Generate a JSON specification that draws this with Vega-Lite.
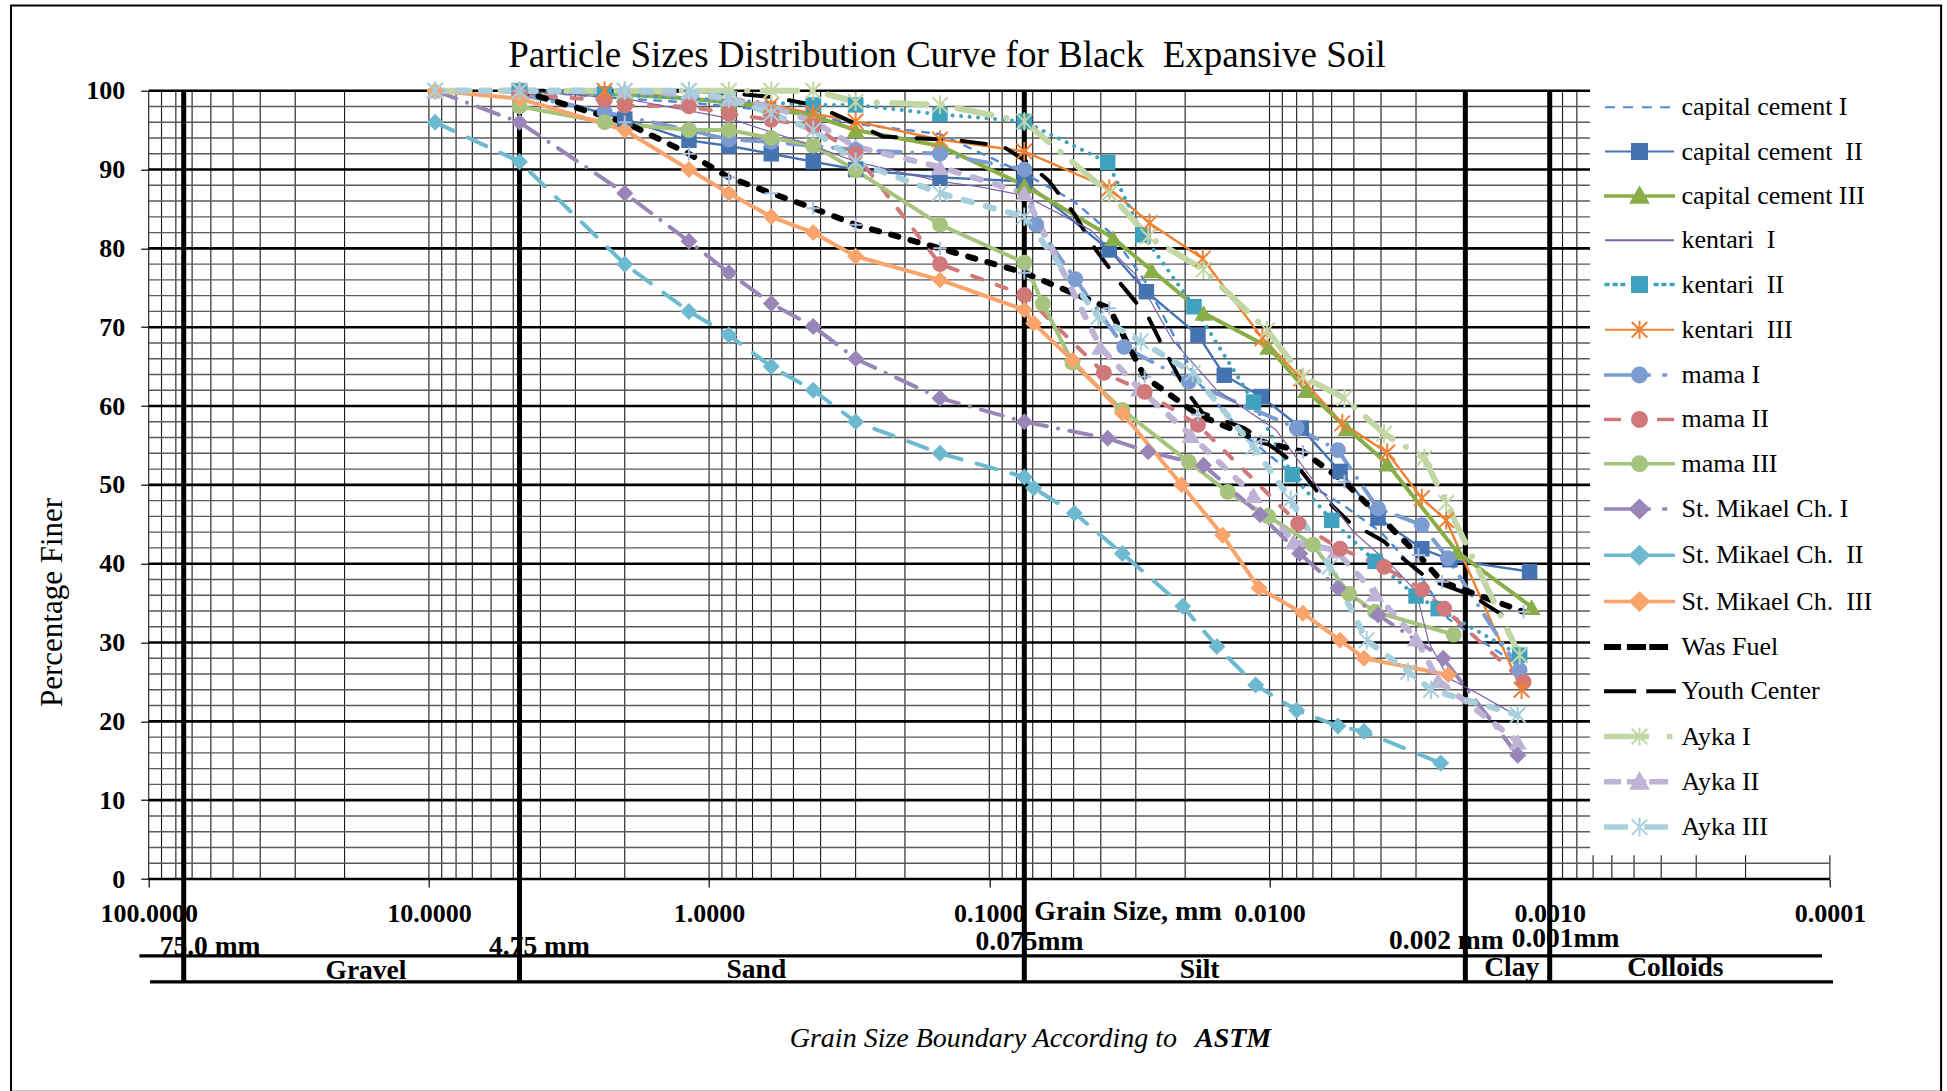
{
  "$schema": "https://vega.github.io/schema/vega-lite/v6.json",
  "width": 1681.2,
  "height": 788.3,
  "autosize": {"type": "none"},
  "padding": {"left": 148.7, "top": 90.7, "right": 117.1, "bottom": 212},
  "background": "white",
  "config": {
    "view": {"stroke": null},
    "font": "Liberation Serif",
    "legend": {
      "labelFont": "Liberation Serif",
      "labelFontSize": 26,
      "labelColor": "black",
      "labelLimit": 400,
      "labelOffset": 29,
      "symbolOffset": 21.5,
      "rowPadding": 18.3,
      "symbolSize": 484,
      "symbolOpacity": 1,
      "symbolStrokeWidth": 2,
      "fillColor": "white",
      "padding": 15
    }
  },
  "datasets": {
    "grain": [
      {"s": "capital cement I", "d": 4.75, "p": 100}, {"s": "capital cement I", "d": 2, "p": 99}, {"s": "capital cement I", "d": 1.18, "p": 98.5}, {"s": "capital cement I", "d": 0.85, "p": 98}, {"s": "capital cement I", "d": 0.6, "p": 97.5}, {"s": "capital cement I", "d": 0.425, "p": 96.8}, {"s": "capital cement I", "d": 0.3, "p": 95.8}, {"s": "capital cement I", "d": 0.15, "p": 94.5}, {"s": "capital cement I", "d": 0.075, "p": 89.5}, {"s": "capital cement I", "d": 0.05, "p": 86}, {"s": "capital cement I", "d": 0.037, "p": 82}, {"s": "capital cement I", "d": 0.028, "p": 76}, {"s": "capital cement I", "d": 0.022, "p": 69}, {"s": "capital cement I", "d": 0.018, "p": 63}, {"s": "capital cement I", "d": 0.012, "p": 56}, {"s": "capital cement I", "d": 0.008, "p": 51}, {"s": "capital cement I", "d": 0.0055, "p": 47.5}, {"s": "capital cement I", "d": 0.004, "p": 44}, {"s": "capital cement I", "d": 0.0029, "p": 38.5}, {"s": "capital cement I", "d": 0.0023, "p": 33}, {"s": "capital cement I", "d": 0.00128, "p": 27},

      {"s": "capital cement\u00a0 II", "d": 4.75, "p": 100}, {"s": "capital cement\u00a0 II", "d": 2, "p": 96.4}, {"s": "capital cement\u00a0 II", "d": 1.18, "p": 93.7}, {"s": "capital cement\u00a0 II", "d": 0.85, "p": 93}, {"s": "capital cement\u00a0 II", "d": 0.6, "p": 92}, {"s": "capital cement\u00a0 II", "d": 0.425, "p": 91}, {"s": "capital cement\u00a0 II", "d": 0.3, "p": 90}, {"s": "capital cement\u00a0 II", "d": 0.15, "p": 89}, {"s": "capital cement\u00a0 II", "d": 0.075, "p": 88.5}, {"s": "capital cement\u00a0 II", "d": 0.0373, "p": 79.8}, {"s": "capital cement\u00a0 II", "d": 0.0275, "p": 74.5}, {"s": "capital cement\u00a0 II", "d": 0.018, "p": 69}, {"s": "capital cement\u00a0 II", "d": 0.0145, "p": 63.9}, {"s": "capital cement\u00a0 II", "d": 0.0107, "p": 61.2}, {"s": "capital cement\u00a0 II", "d": 0.0077, "p": 57.2}, {"s": "capital cement\u00a0 II", "d": 0.0056, "p": 51.7}, {"s": "capital cement\u00a0 II", "d": 0.0041, "p": 45.8}, {"s": "capital cement\u00a0 II", "d": 0.00286, "p": 41.9}, {"s": "capital cement\u00a0 II", "d": 0.00227, "p": 40.5}, {"s": "capital cement\u00a0 II", "d": 0.00118, "p": 39},

      {"s": "capital cement III", "d": 4.75, "p": 100}, {"s": "capital cement III", "d": 2, "p": 99.5}, {"s": "capital cement III", "d": 1.18, "p": 99}, {"s": "capital cement III", "d": 0.85, "p": 98.5}, {"s": "capital cement III", "d": 0.6, "p": 97.8}, {"s": "capital cement III", "d": 0.425, "p": 96.8}, {"s": "capital cement III", "d": 0.3, "p": 95}, {"s": "capital cement III", "d": 0.15, "p": 93}, {"s": "capital cement III", "d": 0.075, "p": 88}, {"s": "capital cement III", "d": 0.0361, "p": 81.3}, {"s": "capital cement III", "d": 0.0263, "p": 77.2}, {"s": "capital cement III", "d": 0.0172, "p": 71.8}, {"s": "capital cement III", "d": 0.0101, "p": 67.5}, {"s": "capital cement III", "d": 0.0074, "p": 62}, {"s": "capital cement III", "d": 0.0053, "p": 57.2}, {"s": "capital cement III", "d": 0.0038, "p": 52.7}, {"s": "capital cement III", "d": 0.00214, "p": 41.5}, {"s": "capital cement III", "d": 0.00116, "p": 34.5},

      {"s": "kentari\u00a0 I", "d": 4.75, "p": 100}, {"s": "kentari\u00a0 I", "d": 2, "p": 99}, {"s": "kentari\u00a0 I", "d": 0.85, "p": 96.5}, {"s": "kentari\u00a0 I", "d": 0.425, "p": 93}, {"s": "kentari\u00a0 I", "d": 0.3, "p": 91}, {"s": "kentari\u00a0 I", "d": 0.15, "p": 88.5}, {"s": "kentari\u00a0 I", "d": 0.108, "p": 87.8}, {"s": "kentari\u00a0 I", "d": 0.075, "p": 86.7}, {"s": "kentari\u00a0 I", "d": 0.0434, "p": 82.3}, {"s": "kentari\u00a0 I", "d": 0.0301, "p": 76.7}, {"s": "kentari\u00a0 I", "d": 0.0222, "p": 68.4}, {"s": "kentari\u00a0 I", "d": 0.0154, "p": 62}, {"s": "kentari\u00a0 I", "d": 0.0095, "p": 57}, {"s": "kentari\u00a0 I", "d": 0.0068, "p": 50}, {"s": "kentari\u00a0 I", "d": 0.005, "p": 44}, {"s": "kentari\u00a0 I", "d": 0.0036, "p": 39.5}, {"s": "kentari\u00a0 I", "d": 0.003, "p": 36.5}, {"s": "kentari\u00a0 I", "d": 0.0027, "p": 30}, {"s": "kentari\u00a0 I", "d": 0.0023, "p": 25.5}, {"s": "kentari\u00a0 I", "d": 0.0018, "p": 23.5}, {"s": "kentari\u00a0 I", "d": 0.00128, "p": 20.5},

      {"s": "kentari\u00a0 II", "d": 4.75, "p": 100}, {"s": "kentari\u00a0 II", "d": 2.36, "p": 99.6}, {"s": "kentari\u00a0 II", "d": 0.425, "p": 98.2}, {"s": "kentari\u00a0 II", "d": 0.3, "p": 98.2}, {"s": "kentari\u00a0 II", "d": 0.15, "p": 97}, {"s": "kentari\u00a0 II", "d": 0.075, "p": 96.1}, {"s": "kentari\u00a0 II", "d": 0.0378, "p": 90.9}, {"s": "kentari\u00a0 II", "d": 0.0283, "p": 81.7}, {"s": "kentari\u00a0 II", "d": 0.0186, "p": 72.6}, {"s": "kentari\u00a0 II", "d": 0.0114, "p": 60.5}, {"s": "kentari\u00a0 II", "d": 0.0083, "p": 51.3}, {"s": "kentari\u00a0 II", "d": 0.006, "p": 45.5}, {"s": "kentari\u00a0 II", "d": 0.0042, "p": 40.3}, {"s": "kentari\u00a0 II", "d": 0.003, "p": 35.9}, {"s": "kentari\u00a0 II", "d": 0.0025, "p": 34.3}, {"s": "kentari\u00a0 II", "d": 0.00128, "p": 28.4},

      {"s": "kentari\u00a0 III", "d": 4.75, "p": 100}, {"s": "kentari\u00a0 III", "d": 2.36, "p": 100}, {"s": "kentari\u00a0 III", "d": 0.6, "p": 98.2}, {"s": "kentari\u00a0 III", "d": 0.425, "p": 97.1}, {"s": "kentari\u00a0 III", "d": 0.3, "p": 96.1}, {"s": "kentari\u00a0 III", "d": 0.15, "p": 93.8}, {"s": "kentari\u00a0 III", "d": 0.075, "p": 92.3}, {"s": "kentari\u00a0 III", "d": 0.0373, "p": 87.6}, {"s": "kentari\u00a0 III", "d": 0.0268, "p": 83.2}, {"s": "kentari\u00a0 III", "d": 0.0173, "p": 78.7}, {"s": "kentari\u00a0 III", "d": 0.0106, "p": 68.6}, {"s": "kentari\u00a0 III", "d": 0.0077, "p": 63.5}, {"s": "kentari\u00a0 III", "d": 0.0055, "p": 57.8}, {"s": "kentari\u00a0 III", "d": 0.0038, "p": 54.1}, {"s": "kentari\u00a0 III", "d": 0.00286, "p": 48.3}, {"s": "kentari\u00a0 III", "d": 0.00234, "p": 45.5}, {"s": "kentari\u00a0 III", "d": 0.00126, "p": 24},

      {"s": "mama I", "d": 4.75, "p": 99.5}, {"s": "mama I", "d": 2.36, "p": 97.3}, {"s": "mama I", "d": 1.18, "p": 95}, {"s": "mama I", "d": 0.85, "p": 93.8}, {"s": "mama I", "d": 0.6, "p": 93.5}, {"s": "mama I", "d": 0.425, "p": 93}, {"s": "mama I", "d": 0.3, "p": 92.5}, {"s": "mama I", "d": 0.15, "p": 92}, {"s": "mama I", "d": 0.075, "p": 90}, {"s": "mama I", "d": 0.068, "p": 83}, {"s": "mama I", "d": 0.0493, "p": 76.1}, {"s": "mama I", "d": 0.033, "p": 67.5}, {"s": "mama I", "d": 0.0194, "p": 63.1}, {"s": "mama I", "d": 0.008, "p": 57.2}, {"s": "mama I", "d": 0.0057, "p": 54.4}, {"s": "mama I", "d": 0.0041, "p": 47}, {"s": "mama I", "d": 0.00286, "p": 44.9}, {"s": "mama I", "d": 0.00231, "p": 40.7}, {"s": "mama I", "d": 0.00128, "p": 26.5},

      {"s": "mama II", "d": 4.75, "p": 99.5}, {"s": "mama II", "d": 2.36, "p": 98.8}, {"s": "mama II", "d": 2, "p": 98.1}, {"s": "mama II", "d": 1.18, "p": 98}, {"s": "mama II", "d": 0.85, "p": 97.1}, {"s": "mama II", "d": 0.6, "p": 96.3}, {"s": "mama II", "d": 0.425, "p": 95.5}, {"s": "mama II", "d": 0.3, "p": 92}, {"s": "mama II", "d": 0.15, "p": 78}, {"s": "mama II", "d": 0.075, "p": 74.1}, {"s": "mama II", "d": 0.039, "p": 64.2}, {"s": "mama II", "d": 0.0279, "p": 61.8}, {"s": "mama II", "d": 0.018, "p": 57.6}, {"s": "mama II", "d": 0.0079, "p": 45.1}, {"s": "mama II", "d": 0.0056, "p": 41.9}, {"s": "mama II", "d": 0.0039, "p": 39.6}, {"s": "mama II", "d": 0.00285, "p": 36.7}, {"s": "mama II", "d": 0.00238, "p": 34.3}, {"s": "mama II", "d": 0.00124, "p": 25},

      {"s": "mama III", "d": 4.75, "p": 98}, {"s": "mama III", "d": 2.36, "p": 96}, {"s": "mama III", "d": 1.18, "p": 95}, {"s": "mama III", "d": 0.85, "p": 95}, {"s": "mama III", "d": 0.6, "p": 94}, {"s": "mama III", "d": 0.425, "p": 93.1}, {"s": "mama III", "d": 0.3, "p": 89.9}, {"s": "mama III", "d": 0.15, "p": 83}, {"s": "mama III", "d": 0.075, "p": 78.2}, {"s": "mama III", "d": 0.0644, "p": 73}, {"s": "mama III", "d": 0.0505, "p": 65.5}, {"s": "mama III", "d": 0.0335, "p": 59.5}, {"s": "mama III", "d": 0.0194, "p": 52.9}, {"s": "mama III", "d": 0.0141, "p": 49.1}, {"s": "mama III", "d": 0.0101, "p": 46}, {"s": "mama III", "d": 0.007, "p": 42.4}, {"s": "mama III", "d": 0.0052, "p": 36.2}, {"s": "mama III", "d": 0.0042, "p": 33.9}, {"s": "mama III", "d": 0.0022, "p": 31},

      {"s": "St. Mikael Ch. I", "d": 9.5, "p": 100}, {"s": "St. Mikael Ch. I", "d": 4.75, "p": 96}, {"s": "St. Mikael Ch. I", "d": 2, "p": 87}, {"s": "St. Mikael Ch. I", "d": 1.18, "p": 80.9}, {"s": "St. Mikael Ch. I", "d": 0.85, "p": 76.9}, {"s": "St. Mikael Ch. I", "d": 0.6, "p": 73}, {"s": "St. Mikael Ch. I", "d": 0.425, "p": 70.1}, {"s": "St. Mikael Ch. I", "d": 0.3, "p": 66}, {"s": "St. Mikael Ch. I", "d": 0.15, "p": 61}, {"s": "St. Mikael Ch. I", "d": 0.075, "p": 58}, {"s": "St. Mikael Ch. I", "d": 0.0378, "p": 55.9}, {"s": "St. Mikael Ch. I", "d": 0.0271, "p": 54.2}, {"s": "St. Mikael Ch. I", "d": 0.0172, "p": 52.5}, {"s": "St. Mikael Ch. I", "d": 0.0108, "p": 46.2}, {"s": "St. Mikael Ch. I", "d": 0.0078, "p": 41.3}, {"s": "St. Mikael Ch. I", "d": 0.0057, "p": 36.9}, {"s": "St. Mikael Ch. I", "d": 0.0041, "p": 33.5}, {"s": "St. Mikael Ch. I", "d": 0.0024, "p": 28}, {"s": "St. Mikael Ch. I", "d": 0.0013, "p": 15.7},

      {"s": "St. Mikael Ch.\u00a0 II", "d": 9.5, "p": 96}, {"s": "St. Mikael Ch.\u00a0 II", "d": 4.75, "p": 91}, {"s": "St. Mikael Ch.\u00a0 II", "d": 2, "p": 78}, {"s": "St. Mikael Ch.\u00a0 II", "d": 1.18, "p": 72}, {"s": "St. Mikael Ch.\u00a0 II", "d": 0.85, "p": 69}, {"s": "St. Mikael Ch.\u00a0 II", "d": 0.6, "p": 65}, {"s": "St. Mikael Ch.\u00a0 II", "d": 0.425, "p": 62}, {"s": "St. Mikael Ch.\u00a0 II", "d": 0.3, "p": 58}, {"s": "St. Mikael Ch.\u00a0 II", "d": 0.15, "p": 54}, {"s": "St. Mikael Ch.\u00a0 II", "d": 0.075, "p": 51}, {"s": "St. Mikael Ch.\u00a0 II", "d": 0.0695, "p": 49.6}, {"s": "St. Mikael Ch.\u00a0 II", "d": 0.0497, "p": 46.4}, {"s": "St. Mikael Ch.\u00a0 II", "d": 0.0335, "p": 41.3}, {"s": "St. Mikael Ch.\u00a0 II", "d": 0.0204, "p": 34.6}, {"s": "St. Mikael Ch.\u00a0 II", "d": 0.0154, "p": 29.5}, {"s": "St. Mikael Ch.\u00a0 II", "d": 0.0112, "p": 24.6}, {"s": "St. Mikael Ch.\u00a0 II", "d": 0.008, "p": 21.4}, {"s": "St. Mikael Ch.\u00a0 II", "d": 0.0057, "p": 19.4}, {"s": "St. Mikael Ch.\u00a0 II", "d": 0.0046, "p": 18.7}, {"s": "St. Mikael Ch.\u00a0 II", "d": 0.00245, "p": 14.7},

      {"s": "St. Mikael Ch.\u00a0 III", "d": 9.5, "p": 100}, {"s": "St. Mikael Ch.\u00a0 III", "d": 4.75, "p": 99}, {"s": "St. Mikael Ch.\u00a0 III", "d": 2, "p": 95}, {"s": "St. Mikael Ch.\u00a0 III", "d": 1.18, "p": 90}, {"s": "St. Mikael Ch.\u00a0 III", "d": 0.85, "p": 87}, {"s": "St. Mikael Ch.\u00a0 III", "d": 0.6, "p": 84}, {"s": "St. Mikael Ch.\u00a0 III", "d": 0.425, "p": 82}, {"s": "St. Mikael Ch.\u00a0 III", "d": 0.3, "p": 79}, {"s": "St. Mikael Ch.\u00a0 III", "d": 0.15, "p": 76}, {"s": "St. Mikael Ch.\u00a0 III", "d": 0.075, "p": 72.2}, {"s": "St. Mikael Ch.\u00a0 III", "d": 0.0695, "p": 70.5}, {"s": "St. Mikael Ch.\u00a0 III", "d": 0.0505, "p": 65.8}, {"s": "St. Mikael Ch.\u00a0 III", "d": 0.0335, "p": 59.1}, {"s": "St. Mikael Ch.\u00a0 III", "d": 0.0206, "p": 50}, {"s": "St. Mikael Ch.\u00a0 III", "d": 0.0147, "p": 43.6}, {"s": "St. Mikael Ch.\u00a0 III", "d": 0.0109, "p": 36.9}, {"s": "St. Mikael Ch.\u00a0 III", "d": 0.0076, "p": 33.7}, {"s": "St. Mikael Ch.\u00a0 III", "d": 0.0056, "p": 30.3}, {"s": "St. Mikael Ch.\u00a0 III", "d": 0.0046, "p": 28}, {"s": "St. Mikael Ch.\u00a0 III", "d": 0.0023, "p": 25.9},

      {"s": "Was Fuel", "d": 4.75, "p": 100}, {"s": "Was Fuel", "d": 2, "p": 96}, {"s": "Was Fuel", "d": 1.18, "p": 92}, {"s": "Was Fuel", "d": 0.85, "p": 89}, {"s": "Was Fuel", "d": 0.6, "p": 87}, {"s": "Was Fuel", "d": 0.425, "p": 85.1}, {"s": "Was Fuel", "d": 0.3, "p": 83}, {"s": "Was Fuel", "d": 0.15, "p": 80}, {"s": "Was Fuel", "d": 0.075, "p": 76.9}, {"s": "Was Fuel", "d": 0.0373, "p": 72.4}, {"s": "Was Fuel", "d": 0.0279, "p": 63.7}, {"s": "Was Fuel", "d": 0.018, "p": 58.9}, {"s": "Was Fuel", "d": 0.0107, "p": 55.5}, {"s": "Was Fuel", "d": 0.0076, "p": 54.2}, {"s": "Was Fuel", "d": 0.0054, "p": 50.4}, {"s": "Was Fuel", "d": 0.00294, "p": 41.1}, {"s": "Was Fuel", "d": 0.00242, "p": 37.7}, {"s": "Was Fuel", "d": 0.00124, "p": 33.9},

      {"s": "Youth Center", "d": 4.75, "p": 100}, {"s": "Youth Center", "d": 1.18, "p": 100}, {"s": "Youth Center", "d": 0.85, "p": 99.7}, {"s": "Youth Center", "d": 0.6, "p": 99.2}, {"s": "Youth Center", "d": 0.425, "p": 98.2}, {"s": "Youth Center", "d": 0.35, "p": 96.9}, {"s": "Youth Center", "d": 0.24, "p": 94.2}, {"s": "Youth Center", "d": 0.13, "p": 93.7}, {"s": "Youth Center", "d": 0.09, "p": 93}, {"s": "Youth Center", "d": 0.075, "p": 91.2}, {"s": "Youth Center", "d": 0.0615, "p": 88.6}, {"s": "Youth Center", "d": 0.05, "p": 84.5}, {"s": "Youth Center", "d": 0.042, "p": 80}, {"s": "Youth Center", "d": 0.0338, "p": 75.4}, {"s": "Youth Center", "d": 0.0271, "p": 71.3}, {"s": "Youth Center", "d": 0.0234, "p": 66.7}, {"s": "Youth Center", "d": 0.0197, "p": 61.8}, {"s": "Youth Center", "d": 0.0173, "p": 59.1}, {"s": "Youth Center", "d": 0.0123, "p": 57.2}, {"s": "Youth Center", "d": 0.0095, "p": 54.5}, {"s": "Youth Center", "d": 0.008, "p": 52.5}, {"s": "Youth Center", "d": 0.0068, "p": 49.3}, {"s": "Youth Center", "d": 0.0052, "p": 45.3}, {"s": "Youth Center", "d": 0.0039, "p": 42.8}, {"s": "Youth Center", "d": 0.0033, "p": 40.5}, {"s": "Youth Center", "d": 0.0027, "p": 38}, {"s": "Youth Center", "d": 0.0019, "p": 36}, {"s": "Youth Center", "d": 0.00135, "p": 32.6},

      {"s": "Ayka I", "d": 9.5, "p": 100}, {"s": "Ayka I", "d": 4.75, "p": 100}, {"s": "Ayka I", "d": 2, "p": 100}, {"s": "Ayka I", "d": 1.18, "p": 100}, {"s": "Ayka I", "d": 0.85, "p": 100}, {"s": "Ayka I", "d": 0.6, "p": 100}, {"s": "Ayka I", "d": 0.425, "p": 100}, {"s": "Ayka I", "d": 0.3, "p": 98.6}, {"s": "Ayka I", "d": 0.15, "p": 98.2}, {"s": "Ayka I", "d": 0.075, "p": 96.1}, {"s": "Ayka I", "d": 0.0373, "p": 87}, {"s": "Ayka I", "d": 0.0271, "p": 81.5}, {"s": "Ayka I", "d": 0.0172, "p": 77.3}, {"s": "Ayka I", "d": 0.0102, "p": 69.6}, {"s": "Ayka I", "d": 0.0076, "p": 63.7}, {"s": "Ayka I", "d": 0.0054, "p": 61}, {"s": "Ayka I", "d": 0.0039, "p": 56.5}, {"s": "Ayka I", "d": 0.0028, "p": 53.4}, {"s": "Ayka I", "d": 0.00234, "p": 47.7}, {"s": "Ayka I", "d": 0.00128, "p": 28.4},

      {"s": "Ayka II", "d": 9.5, "p": 100}, {"s": "Ayka II", "d": 4.75, "p": 100}, {"s": "Ayka II", "d": 2, "p": 100}, {"s": "Ayka II", "d": 1.18, "p": 99.5}, {"s": "Ayka II", "d": 0.85, "p": 99}, {"s": "Ayka II", "d": 0.6, "p": 98}, {"s": "Ayka II", "d": 0.425, "p": 96.1}, {"s": "Ayka II", "d": 0.3, "p": 92.9}, {"s": "Ayka II", "d": 0.15, "p": 90.3}, {"s": "Ayka II", "d": 0.075, "p": 87}, {"s": "Ayka II", "d": 0.0402, "p": 67.5}, {"s": "Ayka II", "d": 0.0292, "p": 62.2}, {"s": "Ayka II", "d": 0.0191, "p": 56.3}, {"s": "Ayka II", "d": 0.0114, "p": 48.7}, {"s": "Ayka II", "d": 0.0082, "p": 42.8}, {"s": "Ayka II", "d": 0.0058, "p": 41.7}, {"s": "Ayka II", "d": 0.0042, "p": 36.2}, {"s": "Ayka II", "d": 0.003, "p": 30.5}, {"s": "Ayka II", "d": 0.0025, "p": 25.2}, {"s": "Ayka II", "d": 0.0013, "p": 17.4},

      {"s": "Ayka III", "d": 9.5, "p": 100}, {"s": "Ayka III", "d": 4.75, "p": 100}, {"s": "Ayka III", "d": 2, "p": 100}, {"s": "Ayka III", "d": 1.18, "p": 100}, {"s": "Ayka III", "d": 0.85, "p": 99}, {"s": "Ayka III", "d": 0.6, "p": 97.1}, {"s": "Ayka III", "d": 0.425, "p": 95}, {"s": "Ayka III", "d": 0.3, "p": 91}, {"s": "Ayka III", "d": 0.15, "p": 87}, {"s": "Ayka III", "d": 0.075, "p": 84}, {"s": "Ayka III", "d": 0.0408, "p": 71.3}, {"s": "Ayka III", "d": 0.0288, "p": 68.2}, {"s": "Ayka III", "d": 0.0188, "p": 64.2}, {"s": "Ayka III", "d": 0.0114, "p": 54.8}, {"s": "Ayka III", "d": 0.0084, "p": 48.1}, {"s": "Ayka III", "d": 0.0061, "p": 39.6}, {"s": "Ayka III", "d": 0.0045, "p": 30.3}, {"s": "Ayka III", "d": 0.0032, "p": 26.3}, {"s": "Ayka III", "d": 0.00265, "p": 24}, {"s": "Ayka III", "d": 0.0013, "p": 20.8}
    ]
  },
  "layer": [
    {
      "data": {"values": [{"v": 100}, {"v": 90}, {"v": 80}, {"v": 70}, {"v": 60}, {"v": 50}, {"v": 40}, {"v": 30}, {"v": 20}, {"v": 10}, {"v": 9}, {"v": 8}, {"v": 7}, {"v": 6}, {"v": 5}, {"v": 4}, {"v": 3}, {"v": 2}, {"v": 1}, {"v": 0.9}, {"v": 0.8}, {"v": 0.7}, {"v": 0.6}, {"v": 0.5}, {"v": 0.4}, {"v": 0.3}, {"v": 0.2}, {"v": 0.1}, {"v": 0.09}, {"v": 0.08}, {"v": 0.07}, {"v": 0.06}, {"v": 0.05}, {"v": 0.04}, {"v": 0.03}, {"v": 0.02}, {"v": 0.01}, {"v": 0.009}, {"v": 0.008}, {"v": 0.007}, {"v": 0.006}, {"v": 0.005}, {"v": 0.004}, {"v": 0.003}, {"v": 0.002}, {"v": 0.001}, {"v": 0.0009}, {"v": 0.0008}, {"v": 0.0007}, {"v": 0.0006}, {"v": 0.0005}, {"v": 0.0004}, {"v": 0.0003}, {"v": 0.0002}, {"v": 0.0001}]},
      "mark": {"type": "rule", "color": "#1a1a1a", "strokeWidth": 1.1},
      "encoding": {
        "x": {
          "field": "v", "type": "quantitative",
          "scale": {"type": "log", "domain": [0.0001, 100], "reverse": true, "nice": false},
          "axis": {
            "title": "Grain Size, mm",
            "titleFont": "Liberation Serif", "titleFontSize": 28, "titleFontWeight": "bold", "titleColor": "black",
            "titleX": 978.8, "titleY": 40.2, "titleBaseline": "alphabetic", "titleAlign": "center",
            "values": [100, 10, 1, 0.1, 0.01, 0.001, 0.0001],
            "format": ".4f",
            "labelFont": "Liberation Serif", "labelFontSize": 26, "labelFontWeight": "bold", "labelColor": "black",
            "labelBaseline": "alphabetic", "labelPadding": 34.4, "labelFlush": false, "labelOverlap": false, "labelBound": false,
            "tickSize": 8, "tickColor": "black", "tickWidth": 1.2,
            "domain": false, "grid": false
          }
        }
      }
    },
    {
      "data": {"values": [{"v": 2}, {"v": 4}, {"v": 6}, {"v": 8}, {"v": 12}, {"v": 14}, {"v": 16}, {"v": 18}, {"v": 22}, {"v": 24}, {"v": 26}, {"v": 28}, {"v": 32}, {"v": 34}, {"v": 36}, {"v": 38}, {"v": 42}, {"v": 44}, {"v": 46}, {"v": 48}, {"v": 52}, {"v": 54}, {"v": 56}, {"v": 58}, {"v": 62}, {"v": 64}, {"v": 66}, {"v": 68}, {"v": 72}, {"v": 74}, {"v": 76}, {"v": 78}, {"v": 82}, {"v": 84}, {"v": 86}, {"v": 88}, {"v": 92}, {"v": 94}, {"v": 96}, {"v": 98}]},
      "mark": {"type": "rule", "color": "#5a5a5a", "strokeWidth": 1.4},
      "encoding": {
        "y": {
          "field": "v", "type": "quantitative",
          "scale": {"domain": [0, 100], "nice": false, "zero": false},
          "axis": {
            "title": "Percentage Finer",
            "titleFont": "Liberation Serif", "titleFontSize": 31, "titleFontWeight": "normal", "titleColor": "black",
            "titleX": -95.9, "titleY": 511.3, "titleAngle": 270, "titleBaseline": "middle", "titleAlign": "center",
            "values": [0, 10, 20, 30, 40, 50, 60, 70, 80, 90, 100],
            "labelFont": "Liberation Serif", "labelFontSize": 26, "labelFontWeight": "bold", "labelColor": "black",
            "labelPadding": 16, "labelOverlap": false, "labelBound": false,
            "tickSize": 8, "tickColor": "black", "tickWidth": 1.2,
            "domain": false, "grid": false
          }
        }
      }
    },
    {
      "data": {"values": [{"v": 0}, {"v": 10}, {"v": 20}, {"v": 30}, {"v": 40}, {"v": 50}, {"v": 60}, {"v": 70}, {"v": 80}, {"v": 90}, {"v": 100}]},
      "mark": {"type": "rule", "color": "black", "strokeWidth": 2.6},
      "encoding": {"y": {"field": "v", "type": "quantitative"}}
    },
    {
      "data": {"values": [{"d": 75}, {"d": 4.75}, {"d": 0.075}, {"d": 0.002}, {"d": 0.001}]},
      "mark": {"type": "rule", "color": "black", "strokeWidth": 5, "clip": false},
      "encoding": {
        "x": {"field": "d", "type": "quantitative"},
        "y": {"datum": 100},
        "y2": {"datum": -13.04}
      }
    },
    {
      "data": {"values": [{}]},
      "mark": {"type": "rule", "color": "black", "strokeWidth": 3.3, "clip": false},
      "encoding": {"x": {"datum": 108}, "x2": {"datum": 0.0001067}, "y": {"datum": -9.75}}
    },
    {
      "data": {"values": [{}]},
      "mark": {"type": "rule", "color": "black", "strokeWidth": 3.3, "clip": false},
      "encoding": {"x": {"datum": 98.9}, "x2": {"datum": 0.0000975}, "y": {"datum": -13.04}}
    },
    {
      "data": {"values": [{}]},
      "mark": {"type": "rect", "filled": false, "stroke": "black", "strokeWidth": 2, "clip": false},
      "encoding": {"x": {"datum": 310}, "x2": {"datum": 0.0000401}, "y": {"datum": 110.8}, "y2": {"datum": -27}}
    },
    {
      "data": {"name": "grain"},
      "transform": [{"filter": {"field": "s", "oneOf": ["capital cement I", "capital cement\u00a0 II", "kentari\u00a0 III"]}}],
      "mark": {"type": "line", "strokeWidth": 2.4, "strokeCap": "round", "strokeJoin": "round", "clip": false},
      "encoding": {
        "x": {"field": "d", "type": "quantitative"},
        "y": {"field": "p", "type": "quantitative"},
        "color": {"field": "s", "type": "nominal", "legend": null,
          "scale": {"domain": ["Ayka III", "Ayka II", "Ayka I", "Youth Center", "Was Fuel", "St. Mikael Ch.\u00a0 III", "St. Mikael Ch.\u00a0 II", "St. Mikael Ch. I", "mama III", "mama II", "mama I", "kentari\u00a0 III", "kentari\u00a0 II", "kentari\u00a0 I", "capital cement III", "capital cement\u00a0 II", "capital cement I"],
            "range": ["#A8CFDC", "#BEB3D4", "#C3D6A6", "#000000", "#000000", "#F9A46C", "#6DBAD0", "#9985B7", "#A6C47D", "#D0787A", "#7C9BD0", "#EF8133", "#3FA2BE", "#7E62A8", "#89AE48", "#4674B3", "#4F8AD3"]}},
        "strokeDash": {"field": "s", "type": "nominal", "legend": null,
          "scale": {"domain": ["Ayka III", "Ayka II", "Ayka I", "Youth Center", "Was Fuel", "St. Mikael Ch.\u00a0 III", "St. Mikael Ch.\u00a0 II", "St. Mikael Ch. I", "mama III", "mama II", "mama I", "kentari\u00a0 III", "kentari\u00a0 II", "kentari\u00a0 I", "capital cement III", "capital cement\u00a0 II", "capital cement I"],
            "range": [[8.5, 14.5], [8.5, 14.5], [34.5, 15.5, 0.01, 15.5], [24.5, 20.5], [7.5, 12.5], [1, 0], [20.5, 15.5], [22.5, 11.5, 0.01, 11.5], [1, 0], [10.5, 15.5], [22.5, 11.5, 0.01, 11.5], [1, 0], [0.01, 8.5], [1, 0], [1, 0], [1, 0], [6.8, 8.2]]}}
      }
    },
    {
      "data": {"name": "grain"},
      "transform": [{"filter": {"field": "s", "oneOf": ["capital cement III", "kentari\u00a0 II", "mama I", "mama II", "mama III", "St. Mikael Ch. I", "St. Mikael Ch.\u00a0 II", "St. Mikael Ch.\u00a0 III", "Youth Center"]}}],
      "mark": {"type": "line", "strokeWidth": 4, "strokeCap": "round", "strokeJoin": "round", "clip": false},
      "encoding": {
        "x": {"field": "d", "type": "quantitative"},
        "y": {"field": "p", "type": "quantitative"},
        "color": {"field": "s", "type": "nominal", "legend": null},
        "strokeDash": {"field": "s", "type": "nominal", "legend": null}
      }
    },
    {
      "data": {"name": "grain"},
      "transform": [{"filter": {"field": "s", "oneOf": ["kentari\u00a0 I"]}}],
      "mark": {"type": "line", "strokeWidth": 1.2, "strokeCap": "round", "strokeJoin": "round", "clip": false},
      "encoding": {
        "x": {"field": "d", "type": "quantitative"},
        "y": {"field": "p", "type": "quantitative"},
        "color": {"field": "s", "type": "nominal", "legend": null},
        "strokeDash": {"field": "s", "type": "nominal", "legend": null}
      }
    },
    {
      "data": {"name": "grain"},
      "transform": [{"filter": {"field": "s", "oneOf": ["Was Fuel", "Ayka I", "Ayka II", "Ayka III"]}}],
      "mark": {"type": "line", "strokeWidth": 6, "strokeCap": "round", "strokeJoin": "round", "clip": false},
      "encoding": {
        "x": {"field": "d", "type": "quantitative"},
        "y": {"field": "p", "type": "quantitative"},
        "color": {"field": "s", "type": "nominal", "legend": null},
        "strokeDash": {"field": "s", "type": "nominal", "legend": null}
      }
    },
    {
      "data": {"name": "grain"},
      "transform": [{"filter": {"field": "s", "oneOf": ["capital cement\u00a0 II", "kentari\u00a0 II"]}}],
      "mark": {"type": "point", "shape": "square", "filled": true, "size": 240, "opacity": 1, "clip": false},
      "encoding": {
        "x": {"field": "d", "type": "quantitative"},
        "y": {"field": "p", "type": "quantitative"},
        "color": {"field": "s", "type": "nominal", "legend": null}
      }
    },
    {
      "data": {"name": "grain"},
      "transform": [{"filter": {"field": "s", "oneOf": ["capital cement III", "Ayka II"]}}],
      "mark": {"type": "point", "shape": "triangle-up", "filled": true, "size": 330, "opacity": 1, "clip": false},
      "encoding": {
        "x": {"field": "d", "type": "quantitative"},
        "y": {"field": "p", "type": "quantitative"},
        "color": {"field": "s", "type": "nominal", "legend": null}
      }
    },
    {
      "data": {"name": "grain"},
      "transform": [{"filter": {"field": "s", "oneOf": ["mama I", "mama II", "mama III"]}}],
      "mark": {"type": "point", "shape": "circle", "filled": true, "size": 250, "opacity": 1, "clip": false},
      "encoding": {
        "x": {"field": "d", "type": "quantitative"},
        "y": {"field": "p", "type": "quantitative"},
        "color": {"field": "s", "type": "nominal", "legend": null}
      }
    },
    {
      "data": {"name": "grain"},
      "transform": [{"filter": {"field": "s", "oneOf": ["St. Mikael Ch. I", "St. Mikael Ch.\u00a0 II", "St. Mikael Ch.\u00a0 III"]}}],
      "mark": {"type": "point", "shape": "diamond", "filled": true, "size": 290, "opacity": 1, "clip": false},
      "encoding": {
        "x": {"field": "d", "type": "quantitative"},
        "y": {"field": "p", "type": "quantitative"},
        "color": {"field": "s", "type": "nominal", "legend": null}
      }
    },
    {
      "data": {"name": "grain"},
      "transform": [{"filter": {"field": "s", "oneOf": ["kentari\u00a0 III", "Ayka I", "Ayka III"]}}],
      "mark": {"type": "point", "shape": "M-1,-1L1,1M-1,1L1,-1M0,-1.2V1.2", "filled": false, "strokeWidth": 2, "size": 240, "opacity": 1, "clip": false},
      "encoding": {
        "x": {"field": "d", "type": "quantitative"},
        "y": {"field": "p", "type": "quantitative"},
        "color": {"field": "s", "type": "nominal", "legend": null}
      }
    },
    {
      "data": {"name": "grain"},
      "transform": [{"filter": {"field": "s", "oneOf": ["Was Fuel"]}}],
      "mark": {"type": "point", "shape": "M-1,0H1M0,-1V1", "filled": false, "strokeWidth": 2, "size": 180, "opacity": 1, "color": "#A9BEDD", "clip": false},
      "encoding": {
        "x": {"field": "d", "type": "quantitative"},
        "y": {"field": "p", "type": "quantitative"}
      }
    },
    {
      "data": {"name": "grain"},
      "mark": {"type": "point", "filled": true, "opacity": 0, "size": 10},
      "encoding": {
        "x": {"field": "d", "type": "quantitative"},
        "y": {"field": "p", "type": "quantitative"},
        "fill": {"field": "s", "type": "nominal",
          "scale": {"domain": ["capital cement I", "capital cement\u00a0 II", "capital cement III", "kentari\u00a0 I", "kentari\u00a0 II", "kentari\u00a0 III", "mama I", "mama II", "mama III", "St. Mikael Ch. I", "St. Mikael Ch.\u00a0 II", "St. Mikael Ch.\u00a0 III", "Was Fuel", "Youth Center", "Ayka I", "Ayka II", "Ayka III"],
            "range": ["#4F8AD3", "#4674B3", "#89AE48", "#7E62A8", "#3FA2BE", "#EF8133", "#7C9BD0", "#D0787A", "#A6C47D", "#9985B7", "#6DBAD0", "#F9A46C", "#000000", "#000000", "#C3D6A6", "#BEB3D4", "#A8CFDC"]},
          "legend": {"title": null, "orient": "none", "legendX": 1441.3, "legendY": -11.4, "direction": "vertical"}
        },
        "stroke": {"field": "s", "type": "nominal",
          "scale": {"domain": ["capital cement I", "capital cement\u00a0 II", "capital cement III", "kentari\u00a0 I", "kentari\u00a0 II", "kentari\u00a0 III", "mama I", "mama II", "mama III", "St. Mikael Ch. I", "St. Mikael Ch.\u00a0 II", "St. Mikael Ch.\u00a0 III", "Was Fuel", "Youth Center", "Ayka I", "Ayka II", "Ayka III"],
            "range": ["#4F8AD3", "#4674B3", "#89AE48", "#7E62A8", "#3FA2BE", "#EF8133", "#7C9BD0", "#D0787A", "#A6C47D", "#9985B7", "#6DBAD0", "#F9A46C", "#000000", "#000000", "#C3D6A6", "#BEB3D4", "#A8CFDC"]},
          "legend": {"title": null, "orient": "none", "legendX": 1441.3, "legendY": -11.4, "direction": "vertical"}
        },
        "shape": {"field": "s", "type": "nominal",
          "scale": {"domain": ["capital cement I", "capital cement\u00a0 II", "capital cement III", "kentari\u00a0 I", "kentari\u00a0 II", "kentari\u00a0 III", "mama I", "mama II", "mama III", "St. Mikael Ch. I", "St. Mikael Ch.\u00a0 II", "St. Mikael Ch.\u00a0 III", "Was Fuel", "Youth Center", "Ayka I", "Ayka II", "Ayka III"],
            "range": [
              "M-3.134,0H-2.225M-1.501,0H-0.592M0.227,0H1.136M1.865,0H2.774",
              "M-3.134,0H3.134M-0.682,-0.682H0.682V0.682H-0.682Z",
              "M-3.134,-0.068H3.134V0.068H-3.134ZM-0.784,0.627L0,-0.784L0.784,0.627Z",
              "M-3.134,0H3.134",
              "M-3.095,-0.068H-2.821V0.068H-3.095ZM-2.351,-0.068H-2.077V0.068H-2.351ZM-1.646,-0.068H-1.371V0.068H-1.646ZM1.371,-0.068H1.646V0.068H1.371ZM2.077,-0.068H2.351V0.068H2.077ZM2.821,-0.068H3.095V0.068H2.821ZM-0.682,-0.682H0.682V0.682H-0.682Z",
              "M-3.134,0H3.134M-0.705,-0.705L0.705,0.705M-0.705,0.705L0.705,-0.705M0,-0.823V0.823",
              "M-3.134,-0.068H0.94V0.068H-3.134ZM2.155,-0.068H2.429V0.068H2.155ZM-0.682,0A0.682,0.682,0,1,0,0.682,0A0.682,0.682,0,1,0,-0.682,0Z",
              "M-3.134,-0.068H-1.763V0.068H-3.134ZM1.685,-0.068H3.056V0.068H1.685ZM-0.682,0A0.682,0.682,0,1,0,0.682,0A0.682,0.682,0,1,0,-0.682,0Z",
              "M-3.134,-0.068H3.134V0.068H-3.134ZM-0.682,0A0.682,0.682,0,1,0,0.682,0A0.682,0.682,0,1,0,-0.682,0Z",
              "M-3.134,-0.068H0.94V0.068H-3.134ZM2.155,-0.068H2.429V0.068H2.155ZM0,-0.823L0.862,0L0,0.823L-0.862,0Z",
              "M-3.134,-0.068H3.134V0.068H-3.134ZM0,-0.823L0.862,0L0,0.823L-0.862,0Z",
              "M-3.134,-0.068H3.134V0.068H-3.134ZM0,-0.823L0.862,0L0,0.823L-0.862,0Z",
              "M-3.134,-0.18H-1.763V0.18H-3.134ZM-1.058,-0.18H0.509V0.18H-1.058ZM0.98,-0.18H2.508V0.18H0.98Z",
              "M-3.134,-0.09H-0.392V0.09H-3.134ZM0.705,-0.09H3.213V0.09H0.705Z",
              "M-3.134,-0.16H0.784V0.16H-3.134ZM2.586,-0.16H2.899V0.16H2.586ZM-0.705,-0.705L0.705,0.705M-0.705,0.705L0.705,-0.705M0,-0.823V0.823",
              "M-3.134,-0.16H-1.763V0.16H-3.134ZM-1.058,-0.16H0.509V0.16H-1.058ZM0.98,-0.16H2.508V0.16H0.98ZM-0.784,0.627L0,-0.784L0.784,0.627Z",
              "M-3.134,-0.16H-1.136V0.16H-3.134ZM0.509,-0.16H2.508V0.16H0.509ZM-0.705,-0.705L0.705,0.705M-0.705,0.705L0.705,-0.705M0,-0.823V0.823"
            ]},
          "legend": {"title": null, "orient": "none", "legendX": 1441.3, "legendY": -11.4, "direction": "vertical"}
        }
      }
    },
    {
      "data": {"values": [{}]},
      "mark": {"type": "text", "font": "Liberation Serif", "fontSize": 37, "align": "center", "baseline": "alphabetic", "color": "black", "clip": false},
      "encoding": {"x": {"datum": 0.1416}, "y": {"datum": 103.04}, "text": {"value": "Particle Sizes Distribution Curve for Black\u00a0 Expansive Soil"}}
    },
    {
      "data": {"values": [{}]},
      "mark": {"type": "text", "font": "Liberation Serif", "fontSize": 27.5, "fontWeight": "bold", "align": "center", "baseline": "alphabetic", "color": "black", "clip": false},
      "encoding": {"x": {"datum": 60.4}, "y": {"datum": -9.6}, "text": {"value": "75.0 mm"}}
    },
    {
      "data": {"values": [{}]},
      "mark": {"type": "text", "font": "Liberation Serif", "fontSize": 27.5, "fontWeight": "bold", "align": "center", "baseline": "alphabetic", "color": "black", "clip": false},
      "encoding": {"x": {"datum": 4.03}, "y": {"datum": -9.6}, "text": {"value": "4.75 mm"}}
    },
    {
      "data": {"values": [{}]},
      "mark": {"type": "text", "font": "Liberation Serif", "fontSize": 27.5, "fontWeight": "bold", "align": "center", "baseline": "alphabetic", "color": "black", "clip": false},
      "encoding": {"x": {"datum": 0.0719}, "y": {"datum": -9.0}, "text": {"value": "0.075mm"}}
    },
    {
      "data": {"values": [{}]},
      "mark": {"type": "text", "font": "Liberation Serif", "fontSize": 27.5, "fontWeight": "bold", "align": "center", "baseline": "alphabetic", "color": "black", "clip": false},
      "encoding": {"x": {"datum": 0.002337}, "y": {"datum": -8.9}, "text": {"value": "0.002 mm"}}
    },
    {
      "data": {"values": [{}]},
      "mark": {"type": "text", "font": "Liberation Serif", "fontSize": 27.5, "fontWeight": "bold", "align": "center", "baseline": "alphabetic", "color": "black", "clip": false},
      "encoding": {"x": {"datum": 0.000878}, "y": {"datum": -8.6}, "text": {"value": "0.001mm"}}
    },
    {
      "data": {"values": [{}]},
      "mark": {"type": "text", "font": "Liberation Serif", "fontSize": 27.5, "fontWeight": "bold", "align": "center", "baseline": "alphabetic", "color": "black", "clip": false},
      "encoding": {"x": {"datum": 16.77}, "y": {"datum": -12.7}, "text": {"value": "Gravel"}}
    },
    {
      "data": {"values": [{}]},
      "mark": {"type": "text", "font": "Liberation Serif", "fontSize": 27.5, "fontWeight": "bold", "align": "center", "baseline": "alphabetic", "color": "black", "clip": false},
      "encoding": {"x": {"datum": 0.678}, "y": {"datum": -12.5}, "text": {"value": "Sand"}}
    },
    {
      "data": {"values": [{}]},
      "mark": {"type": "text", "font": "Liberation Serif", "fontSize": 27.5, "fontWeight": "bold", "align": "center", "baseline": "alphabetic", "color": "black", "clip": false},
      "encoding": {"x": {"datum": 0.01776}, "y": {"datum": -12.6}, "text": {"value": "Silt"}}
    },
    {
      "data": {"values": [{}]},
      "mark": {"type": "text", "font": "Liberation Serif", "fontSize": 27.5, "fontWeight": "bold", "align": "center", "baseline": "alphabetic", "color": "black", "clip": false},
      "encoding": {"x": {"datum": 0.001367}, "y": {"datum": -12.3}, "text": {"value": "Clay"}}
    },
    {
      "data": {"values": [{}]},
      "mark": {"type": "text", "font": "Liberation Serif", "fontSize": 27.5, "fontWeight": "bold", "align": "center", "baseline": "alphabetic", "color": "black", "clip": false},
      "encoding": {"x": {"datum": 0.000356}, "y": {"datum": -12.3}, "text": {"value": "Colloids"}}
    },
    {
      "data": {"values": [{}]},
      "mark": {"type": "text", "font": "Liberation Serif", "fontSize": 28, "fontStyle": "italic", "align": "right", "baseline": "alphabetic", "color": "black", "clip": false},
      "encoding": {"x": {"datum": 0.02138}, "y": {"datum": -21.27}, "text": {"value": "Grain Size Boundary According to"}}
    },
    {
      "data": {"values": [{}]},
      "mark": {"type": "text", "font": "Liberation Serif", "fontSize": 28, "fontStyle": "italic", "fontWeight": "bold", "align": "left", "baseline": "alphabetic", "color": "black", "clip": false},
      "encoding": {"x": {"datum": 0.01845}, "y": {"datum": -21.27}, "text": {"value": "ASTM"}}
    }
  ]
}
